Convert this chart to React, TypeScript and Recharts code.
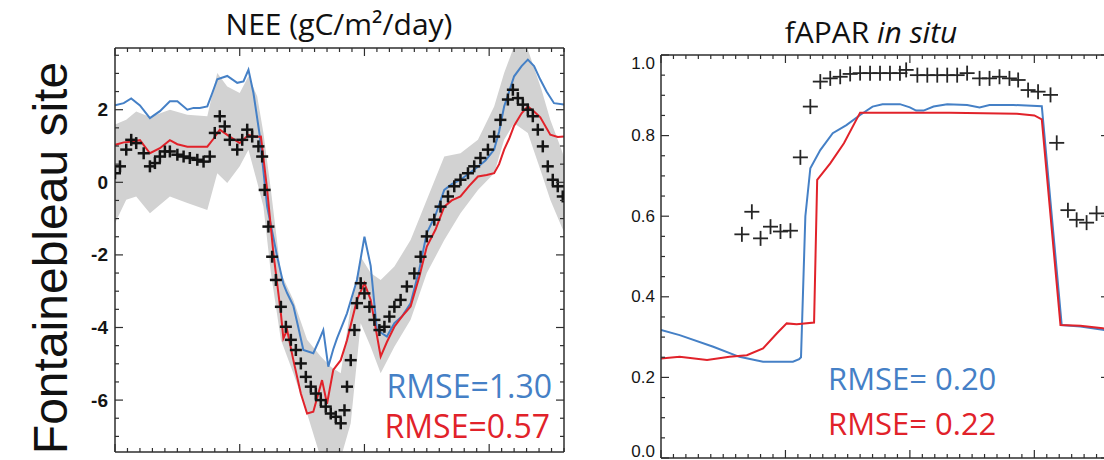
import { ComposedChart, Line, Area, Scatter, XAxis, YAxis } from 'recharts'

// ---- NEE panel (left) ----
const neeObsDays = [0, 4, 9, 13, 17, 23, 28, 32, 36, 40, 44, 50, 55, 60, 66, 71, 76, 80, 84, 88, 92, 98, 102, 106, 110, 115, 118, 120, 123, 126, 129, 133, 137, 141, 145, 149, 153, 157, 161, 165, 169, 173, 177, 181, 184, 186, 189, 192, 194, 197, 200, 204, 208, 212, 216, 220, 224, 229, 234, 240, 245, 250, 256, 261, 267, 272, 277, 283, 288, 293, 299, 304, 309, 315, 319, 323, 327, 331, 335, 339, 343, 347, 351, 355, 359]
const neeObs = [0.25, 0.44, 0.9, 1.17, 1.08, 0.8, 0.44, 0.53, 0.71, 0.85, 0.85, 0.76, 0.71, 0.67, 0.62, 0.57, 0.71, 1.36, 1.82, 1.54, 1.17, 0.9, 1.17, 1.45, 1.26, 0.99, 0.71, -0.21, -1.22, -2.05, -2.69, -3.43, -3.98, -4.34, -4.62, -4.99, -5.36, -5.63, -5.82, -6.0, -6.18, -6.37, -6.46, -6.64, -6.28, -5.63, -4.9, -4.07, -3.33, -2.78, -3.06, -3.43, -3.79, -4.07, -3.98, -3.7, -3.43, -3.24, -2.87, -2.51, -2.05, -1.49, -1.03, -0.67, -0.39, -0.11, 0.07, 0.25, 0.44, 0.67, 0.9, 1.26, 1.72, 2.28, 2.55, 2.32, 2.14, 2.0, 1.82, 1.45, 0.99, 0.44, 0.07, -0.11, -0.39]

const neeBandDays = [0, 9, 17, 28, 44, 58, 74, 82, 90, 100, 107, 114, 119, 125, 133, 143, 154, 165, 173, 181, 189, 197, 205, 213, 224, 237, 250, 264, 277, 291, 304, 312, 320, 331, 342, 349, 358, 362]
const neeBandHi = [1.59, 1.72, 1.95, 1.8, 2.0, 1.86, 1.82, 3.01, 2.64, 2.46, 2.92, 2.37, 1.36, -0.21, -2.5, -3.24, -4.34, -4.8, -5.08, -5.26, -3.43, -2.05, -2.5, -2.69, -2.32, -1.59, -0.48, 0.71, 0.8, 1.17, 2.09, 3.01, 3.75, 3.66, 2.55, 1.72, 0.9, 0.5]
const neeBandLo = [-1.13, -0.48, -0.39, -0.85, -0.39, -0.57, -0.76, 0.25, -0.02, 0.44, 0.9, 0.0, -0.67, -2.5, -4.34, -5.26, -6.37, -7.6, -7.6, -7.6, -6.64, -3.88, -4.53, -5.26, -4.53, -3.79, -2.5, -1.59, -0.85, -0.21, 0.25, 1.17, 1.63, 1.36, 0.25, -0.48, -1.22, -1.5]

const neeBlueDays = [0, 7, 13, 20, 28, 36, 44, 50, 58, 63, 68, 74, 78, 82, 90, 98, 103, 107, 111, 116, 122, 130, 135, 138, 143, 147, 151, 159, 163, 167, 171, 175, 178, 186, 194, 200, 205, 210, 218, 224, 230, 237, 244, 250, 257, 264, 270, 277, 284, 291, 297, 304, 308, 312, 316, 320, 326, 331, 336, 341, 346, 352, 360]
const neeBlue = [2.12, 2.18, 2.31, 2.12, 1.77, 1.96, 2.23, 2.23, 2.0, 2.05, 2.05, 2.09, 2.46, 2.84, 2.93, 2.74, 2.78, 3.1, 2.46, 1.3, -0.67, -2.04, -2.8, -3.05, -3.4, -4.0, -4.62, -4.71, -4.4, -4.07, -5.08, -4.6, -4.3, -3.61, -2.69, -1.5, -2.3, -4.07, -4.25, -3.88, -3.7, -3.33, -2.4, -1.4, -0.9, -0.21, -0.05, 0.07, 0.25, 0.43, 0.6, 0.9, 1.4, 2.09, 2.5, 2.92, 3.2, 3.38, 3.2, 2.83, 2.5, 2.18, 2.14]

const neeRedDays = [0, 7, 13, 20, 28, 36, 44, 50, 58, 66, 74, 79, 84, 92, 100, 107, 113, 117, 122, 127, 133, 135, 138, 143, 149, 154, 159, 166, 170, 175, 181, 186, 194, 200, 205, 213, 218, 224, 230, 237, 244, 250, 257, 264, 270, 277, 284, 291, 298, 304, 308, 312, 316, 320, 326, 331, 336, 341, 349, 355, 360]
const neeRed = [1.03, 1.1, 1.12, 1.16, 0.8, 0.94, 1.16, 1.05, 0.98, 0.98, 0.98, 1.2, 1.45, 1.26, 1.08, 1.31, 1.25, 1.26, -0.21, -1.95, -3.61, -4.3, -4.07, -4.9, -5.82, -6.37, -6.32, -5.45, -6.1, -5.17, -4.9, -4.35, -3.24, -2.78, -3.24, -4.8, -4.4, -3.98, -3.7, -3.42, -2.6, -1.77, -1.3, -0.67, -0.5, -0.39, -0.1, 0.16, 0.2, 0.25, 0.5, 0.9, 1.2, 1.56, 1.9, 2.09, 1.95, 1.79, 1.31, 1.25, 1.26]

// ---- fAPAR panel (right) ----
const faparObsDays = [65, 73, 80, 88, 96, 104, 112, 120, 128, 136, 144, 152, 160, 168, 176, 184, 192, 197, 206, 214, 222, 230, 238, 246, 256, 264, 272, 280, 287, 295, 303, 313, 318, 327, 334, 342, 350]
const faparObs = [0.555, 0.611, 0.545, 0.574, 0.562, 0.564, 0.746, 0.872, 0.934, 0.942, 0.946, 0.953, 0.955, 0.955, 0.955, 0.955, 0.955, 0.963, 0.95, 0.95, 0.95, 0.95, 0.95, 0.955, 0.942, 0.942, 0.946, 0.942, 0.938, 0.913, 0.909, 0.901, 0.782, 0.615, 0.591, 0.584, 0.607]

const faparBlueDays = [0, 15, 42, 63, 82, 106, 111, 112.5, 116, 120, 128, 138, 149, 160, 170, 178, 192, 200, 205, 211, 219, 230, 246, 256, 264, 283, 306, 322, 337, 355, 360]
const faparBlue = [0.318, 0.305, 0.276, 0.251, 0.239, 0.239, 0.245, 0.25, 0.6, 0.719, 0.764, 0.806, 0.826, 0.851, 0.872, 0.878, 0.878, 0.87, 0.862, 0.862, 0.872, 0.878, 0.876, 0.87, 0.876, 0.876, 0.873, 0.33, 0.326, 0.318, 0.315]

const faparRedDays = [0, 15, 37, 55, 69, 82, 93, 101, 109, 123, 125.5, 136, 147, 160, 178, 232, 286, 300, 306, 321, 337, 355, 360]
const faparRed = [0.247, 0.251, 0.243, 0.251, 0.255, 0.272, 0.309, 0.334, 0.332, 0.336, 0.69, 0.731, 0.781, 0.857, 0.857, 0.857, 0.854, 0.85, 0.84, 0.33, 0.328, 0.322, 0.32]

// tick positions
const dayTicks = Array.from({ length: 37 }, (_, i) => i * 10)
const neeTicks = Array.from({ length: 22 }, (_, i) => -7 + i * 0.5)
const faparTicks = Array.from({ length: 21 }, (_, i) => Math.round(i * 5) / 100)

const BLUE = '#4580c6'
const RED = '#e1222a'
const FRAME = '#2e2e2e'
const frameLine = { stroke: FRAME, strokeWidth: 1.5 }

const pts = (days: number[], vals: number[]) => days.map((day, i) => ({ day, value: vals[i] }))
const neeObsPts = pts(neeObsDays, neeObs)
const neeBand = neeBandDays.map((day, i) => ({ day, lo: neeBandLo[i], hi: neeBandHi[i] }))
const neeBluePts = pts(neeBlueDays, neeBlue)
const neeRedPts = pts(neeRedDays, neeRed)
const faparObsPts = pts(faparObsDays, faparObs)
const faparBluePts = pts(faparBlueDays, faparBlue)
const faparRedPts = pts(faparRedDays, faparRed)

// tick marks point into the plot, IDL style
const dayTick = (dir: number) => (p: any) => {
  const len = p.payload.value % 100 === 0 ? 8 : 4
  return <line x1={p.x} y1={p.y} x2={p.x} y2={p.y + dir * len} stroke={FRAME} strokeWidth={1.2} />
}

type TickLabel = { text: string; dy: number; gap: number; size: number; weight: string }

const valueTick = (dir: number, isMajor: (v: number) => boolean, label?: (v: number) => TickLabel) => (p: any) => {
  const v = p.payload.value
  const major = isMajor(v)
  const lab = major && label ? label(v) : null
  return (
    <g>
      <line x1={p.x} y1={p.y} x2={p.x + dir * (major ? 8 : 4)} y2={p.y} stroke={FRAME} strokeWidth={1.2} />
      {lab && (
        <text x={p.x - lab.gap} y={p.y + lab.dy} textAnchor="end" dominantBaseline="central"
          style={{ fontFamily: 'Liberation Sans, Arial', fontSize: lab.size, fontWeight: lab.weight, fill: '#151515' }}>
          {lab.text}
        </text>
      )}
    </g>
  )
}

const neeMajor = (v: number) => Math.abs(v % 2) < 1e-6
const faparMajor = (v: number) => Math.round(v * 100) % 20 === 0

function Cross({ cx, cy, r, w, color }: { cx?: number; cy?: number; r: number; w: number; color: string }) {
  if (cx == null || cy == null) return null
  return (
    <g stroke={color} strokeWidth={w}>
      <line x1={cx - r} y1={cy} x2={cx + r} y2={cy} />
      <line x1={cx} y1={cy - r} x2={cx} y2={cy + r} />
    </g>
  )
}

const axisCommon = { tickSize: 0, tickMargin: 0, tickLine: false, axisLine: frameLine, interval: 0 as const, allowDataOverflow: true }

function NeePanel() {
  return (
    <ComposedChart width={580} height={460} margin={{ top: 47, right: 15, bottom: 7, left: 114 }}>
      <XAxis xAxisId="b" dataKey="day" type="number" domain={[0, 360]} ticks={dayTicks} height={1} {...axisCommon} tick={dayTick(-1)} />
      <XAxis xAxisId="t" orientation="top" dataKey="day" type="number" domain={[0, 360]} ticks={dayTicks} height={1} {...axisCommon} tick={dayTick(1)} />
      <YAxis yAxisId="l" type="number" domain={[-7.43, 3.7]} ticks={neeTicks} width={1} {...axisCommon}
        tick={valueTick(1, neeMajor, (v) => ({ text: String(v), dy: 0, gap: 7, size: 19, weight: 'bold' }))} />
      <YAxis yAxisId="r" orientation="right" type="number" domain={[-7.43, 3.7]} ticks={neeTicks} width={1} {...axisCommon}
        tick={valueTick(-1, neeMajor)} />
      <Area xAxisId="b" yAxisId="l" data={neeBand} dataKey={(d: any) => [d.lo, d.hi]} type="linear"
        stroke="none" fill="#d2d2d2" fillOpacity={1} isAnimationActive={false} />
      <Scatter xAxisId="b" yAxisId="l" data={neeObsPts} dataKey="value" isAnimationActive={false}
        shape={(p: any) => <Cross cx={p.cx} cy={p.cy} r={6} w={2.5} color="#141414" />} />
      <Line xAxisId="b" yAxisId="l" data={neeBluePts} dataKey="value" type="linear" stroke={BLUE}
        strokeWidth={2} dot={false} isAnimationActive={false} />
      <Line xAxisId="b" yAxisId="l" data={neeRedPts} dataKey="value" type="linear" stroke={RED}
        strokeWidth={2} dot={false} isAnimationActive={false} />
    </ComposedChart>
  )
}

function FaparPanel() {
  return (
    <ComposedChart width={540} height={460} margin={{ top: 54, right: 10, bottom: 1, left: 80 }}>
      <XAxis xAxisId="b" dataKey="day" type="number" domain={[0, 360]} ticks={dayTicks} height={1} {...axisCommon} tick={dayTick(-1)} />
      <XAxis xAxisId="t" orientation="top" dataKey="day" type="number" domain={[0, 360]} ticks={dayTicks} height={1} {...axisCommon} tick={dayTick(1)} />
      <YAxis yAxisId="l" type="number" domain={[0, 1]} ticks={faparTicks} width={1} {...axisCommon}
        tick={valueTick(1, faparMajor, (v) => ({ text: v.toFixed(1), dy: v === 1 ? 8 : v === 0 ? -7 : 0, gap: 6, size: 17, weight: 'normal' }))} />
      <YAxis yAxisId="r" orientation="right" type="number" domain={[0, 1]} ticks={faparTicks} width={1} {...axisCommon}
        tick={valueTick(-1, faparMajor)} />
      <Line xAxisId="b" yAxisId="l" data={faparBluePts} dataKey="value" type="linear" stroke={BLUE}
        strokeWidth={2} dot={false} isAnimationActive={false} />
      <Line xAxisId="b" yAxisId="l" data={faparRedPts} dataKey="value" type="linear" stroke={RED}
        strokeWidth={2} dot={false} isAnimationActive={false} />
      <Scatter xAxisId="b" yAxisId="l" data={faparObsPts} dataKey="value" isAnimationActive={false}
        shape={(p: any) => <Cross cx={p.cx} cy={p.cy} r={7.5} w={1.8} color="#262626" />} />
    </ComposedChart>
  )
}

const textFont = { fontFamily: 'Open Sans, sans-serif' }

export default function App() {
  return (
    <div style={{ position: 'absolute', left: 0, top: 0, width: 1104, height: 460, overflow: 'hidden', background: '#fff' }}>
      <div style={{ position: 'absolute', left: 0, top: 0 }}>
        <NeePanel />
      </div>
      <div style={{ position: 'absolute', left: 580, top: 0 }}>
        <FaparPanel />
      </div>
      <svg width={1104} height={460} style={{ position: 'absolute', left: 0, top: 0, pointerEvents: 'none' }}>
        <text x={67} y={258} textAnchor="middle" transform="rotate(-90 67 258)"
          style={{ fontFamily: 'Liberation Sans, Arial', fontSize: 48, fill: '#111' }}>
          Fontainebleau site
        </text>
        <text x={339} y={35} textAnchor="middle" style={{ ...textFont, fontSize: 30, fill: '#111' }}>
          NEE (gC/m²/day)
        </text>
        <text x={871} y={43} textAnchor="middle" style={{ ...textFont, fontSize: 30, fill: '#111' }}>
          fAPAR <tspan fontStyle="italic">in situ</tspan>
        </text>
        <text x={552} y={398} textAnchor="end" style={{ ...textFont, fontSize: 32, fill: BLUE }}>RMSE=1.30</text>
        <text x={550} y={438} textAnchor="end" style={{ ...textFont, fontSize: 32, fill: RED }}>RMSE=0.57</text>
        <text x={828} y={390} style={{ ...textFont, fontSize: 31, fill: BLUE }}>RMSE= 0.20</text>
        <text x={828} y={435} style={{ ...textFont, fontSize: 31, fill: RED }}>RMSE= 0.22</text>
      </svg>
    </div>
  )
}
